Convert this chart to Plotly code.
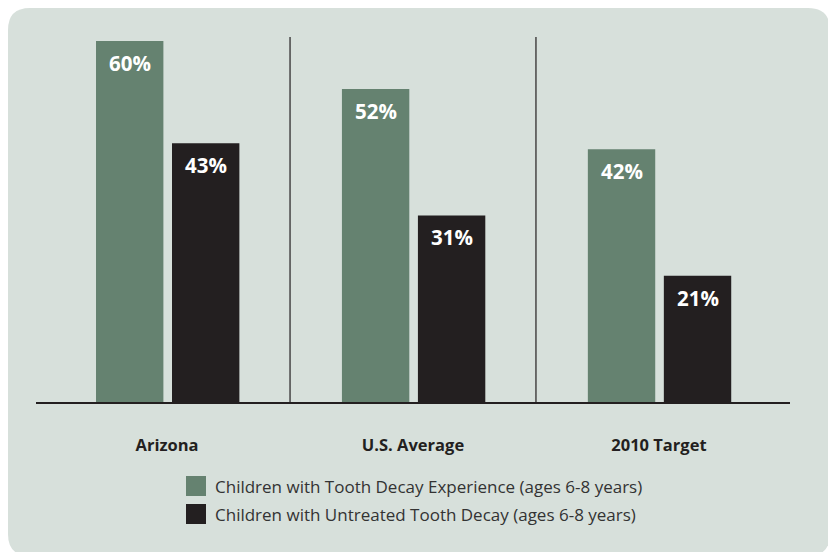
import plotly.graph_objects as go

categories = ["Arizona", "U.S. Average", "2010 Target"]
decay_experience = [60, 52, 42]
untreated_decay = [43, 31, 21]
series_names = [
    "Children with Tooth Decay Experience (ages 6-8 years)",
    "Children with Untreated Tooth Decay (ages 6-8 years)",
]

GREEN = "#658270"
BLACK = "#231f20"
CARD = "#d7e0db"
FONT = "Open Sans, Noto Sans, sans-serif"

# page offset of the figure (body margin)
OX, OY = 8, 8
W, H = 836 - OX, 552 - OY
# plot area in screen pixels: x 36..790, y 37..402
ML, MR, MT, MB = 36 - OX, W - (790 - OX), 37 - OY, H - (402 - OY)
PW, PH = W - ML - MR, H - MT - MB


def px(x):
    return (x - OX - ML) / PW


def py(y):
    return (H - MB - (y - OY)) / PH


xs = list(range(len(categories)))
BW = 0.274
OFF = [-0.289, 0.020]

fig = go.Figure()
for vals, col, off in ((decay_experience, GREEN, OFF[0]), (untreated_decay, BLACK, OFF[1])):
    fig.add_trace(go.Bar(x=xs, y=vals, width=BW, offset=off, marker=dict(color=col, line=dict(width=0)),
                         showlegend=False, hoverinfo="skip"))

annotations = []
for vals, off in ((decay_experience, OFF[0]), (untreated_decay, OFF[1])):
    for i, v in zip(xs, vals):
        annotations.append(dict(x=i + off + BW / 2, y=v, xref="x", yref="y", text=f"<b>{v}%</b>",
                                showarrow=False, yanchor="middle", yshift=-22,
                                font=dict(family=FONT, size=20.5, color="white")))

shapes = []
# card background
x0, x1, y0, y1, r = px(8), px(830), py(8), py(556), 22
rx, ry = r / PW, r / PH
path = (f"M {x0+rx},{y0} L {x1-rx},{y0} Q {x1},{y0} {x1},{y0-ry} "
        f"L {x1},{y1+ry} Q {x1},{y1} {x1-rx},{y1} L {x0+rx},{y1} Q {x0},{y1} {x0},{y1+ry} "
        f"L {x0},{y0-ry} Q {x0},{y0} {x0+rx},{y0} Z")
shapes.append(dict(type="path", path=path, xref="paper", yref="paper", fillcolor=CARD,
                   line=dict(width=0), layer="below"))
# group separators
for i in xs[:-1]:
    shapes.append(dict(type="line", x0=i + 0.5, x1=i + 0.5, y0=0, y1=1, xref="x", yref="paper",
                       line=dict(color=BLACK, width=1.2)))
# legend
for k, (col, ytop) in enumerate(((GREEN, 476), (BLACK, 504))):
    shapes.append(dict(type="rect", x0=px(186), x1=px(206), y0=py(ytop), y1=py(ytop + 20),
                       xref="paper", yref="paper", fillcolor=col, line=dict(width=0)))
    annotations.append(dict(x=px(213), y=py(ytop + 10), xref="paper", yref="paper", text=series_names[k],
                            showarrow=False, xanchor="left", yanchor="middle",
                            font=dict(family=FONT, size=17, color="#333333")))

fig.update_layout(
    width=W, height=H,
    margin=dict(l=ML, r=MR, t=MT, b=MB),
    paper_bgcolor="white", plot_bgcolor="rgba(0,0,0,0)",
    shapes=shapes, annotations=annotations,
    barmode="overlay",
    xaxis=dict(range=[-0.533, 2.533], tickvals=xs, ticktext=[f"<b>{c}</b>" for c in categories],
               tickfont=dict(family=FONT, size=16.5, color=BLACK), showgrid=False, zeroline=False,
               showline=True, linecolor=BLACK, linewidth=2, ticks="", ticklabelstandoff=27, fixedrange=True),
    yaxis=dict(range=[0, PH / 6.017], visible=False, showgrid=False, zeroline=False, fixedrange=True),
)

fig.write_html("out.html")
